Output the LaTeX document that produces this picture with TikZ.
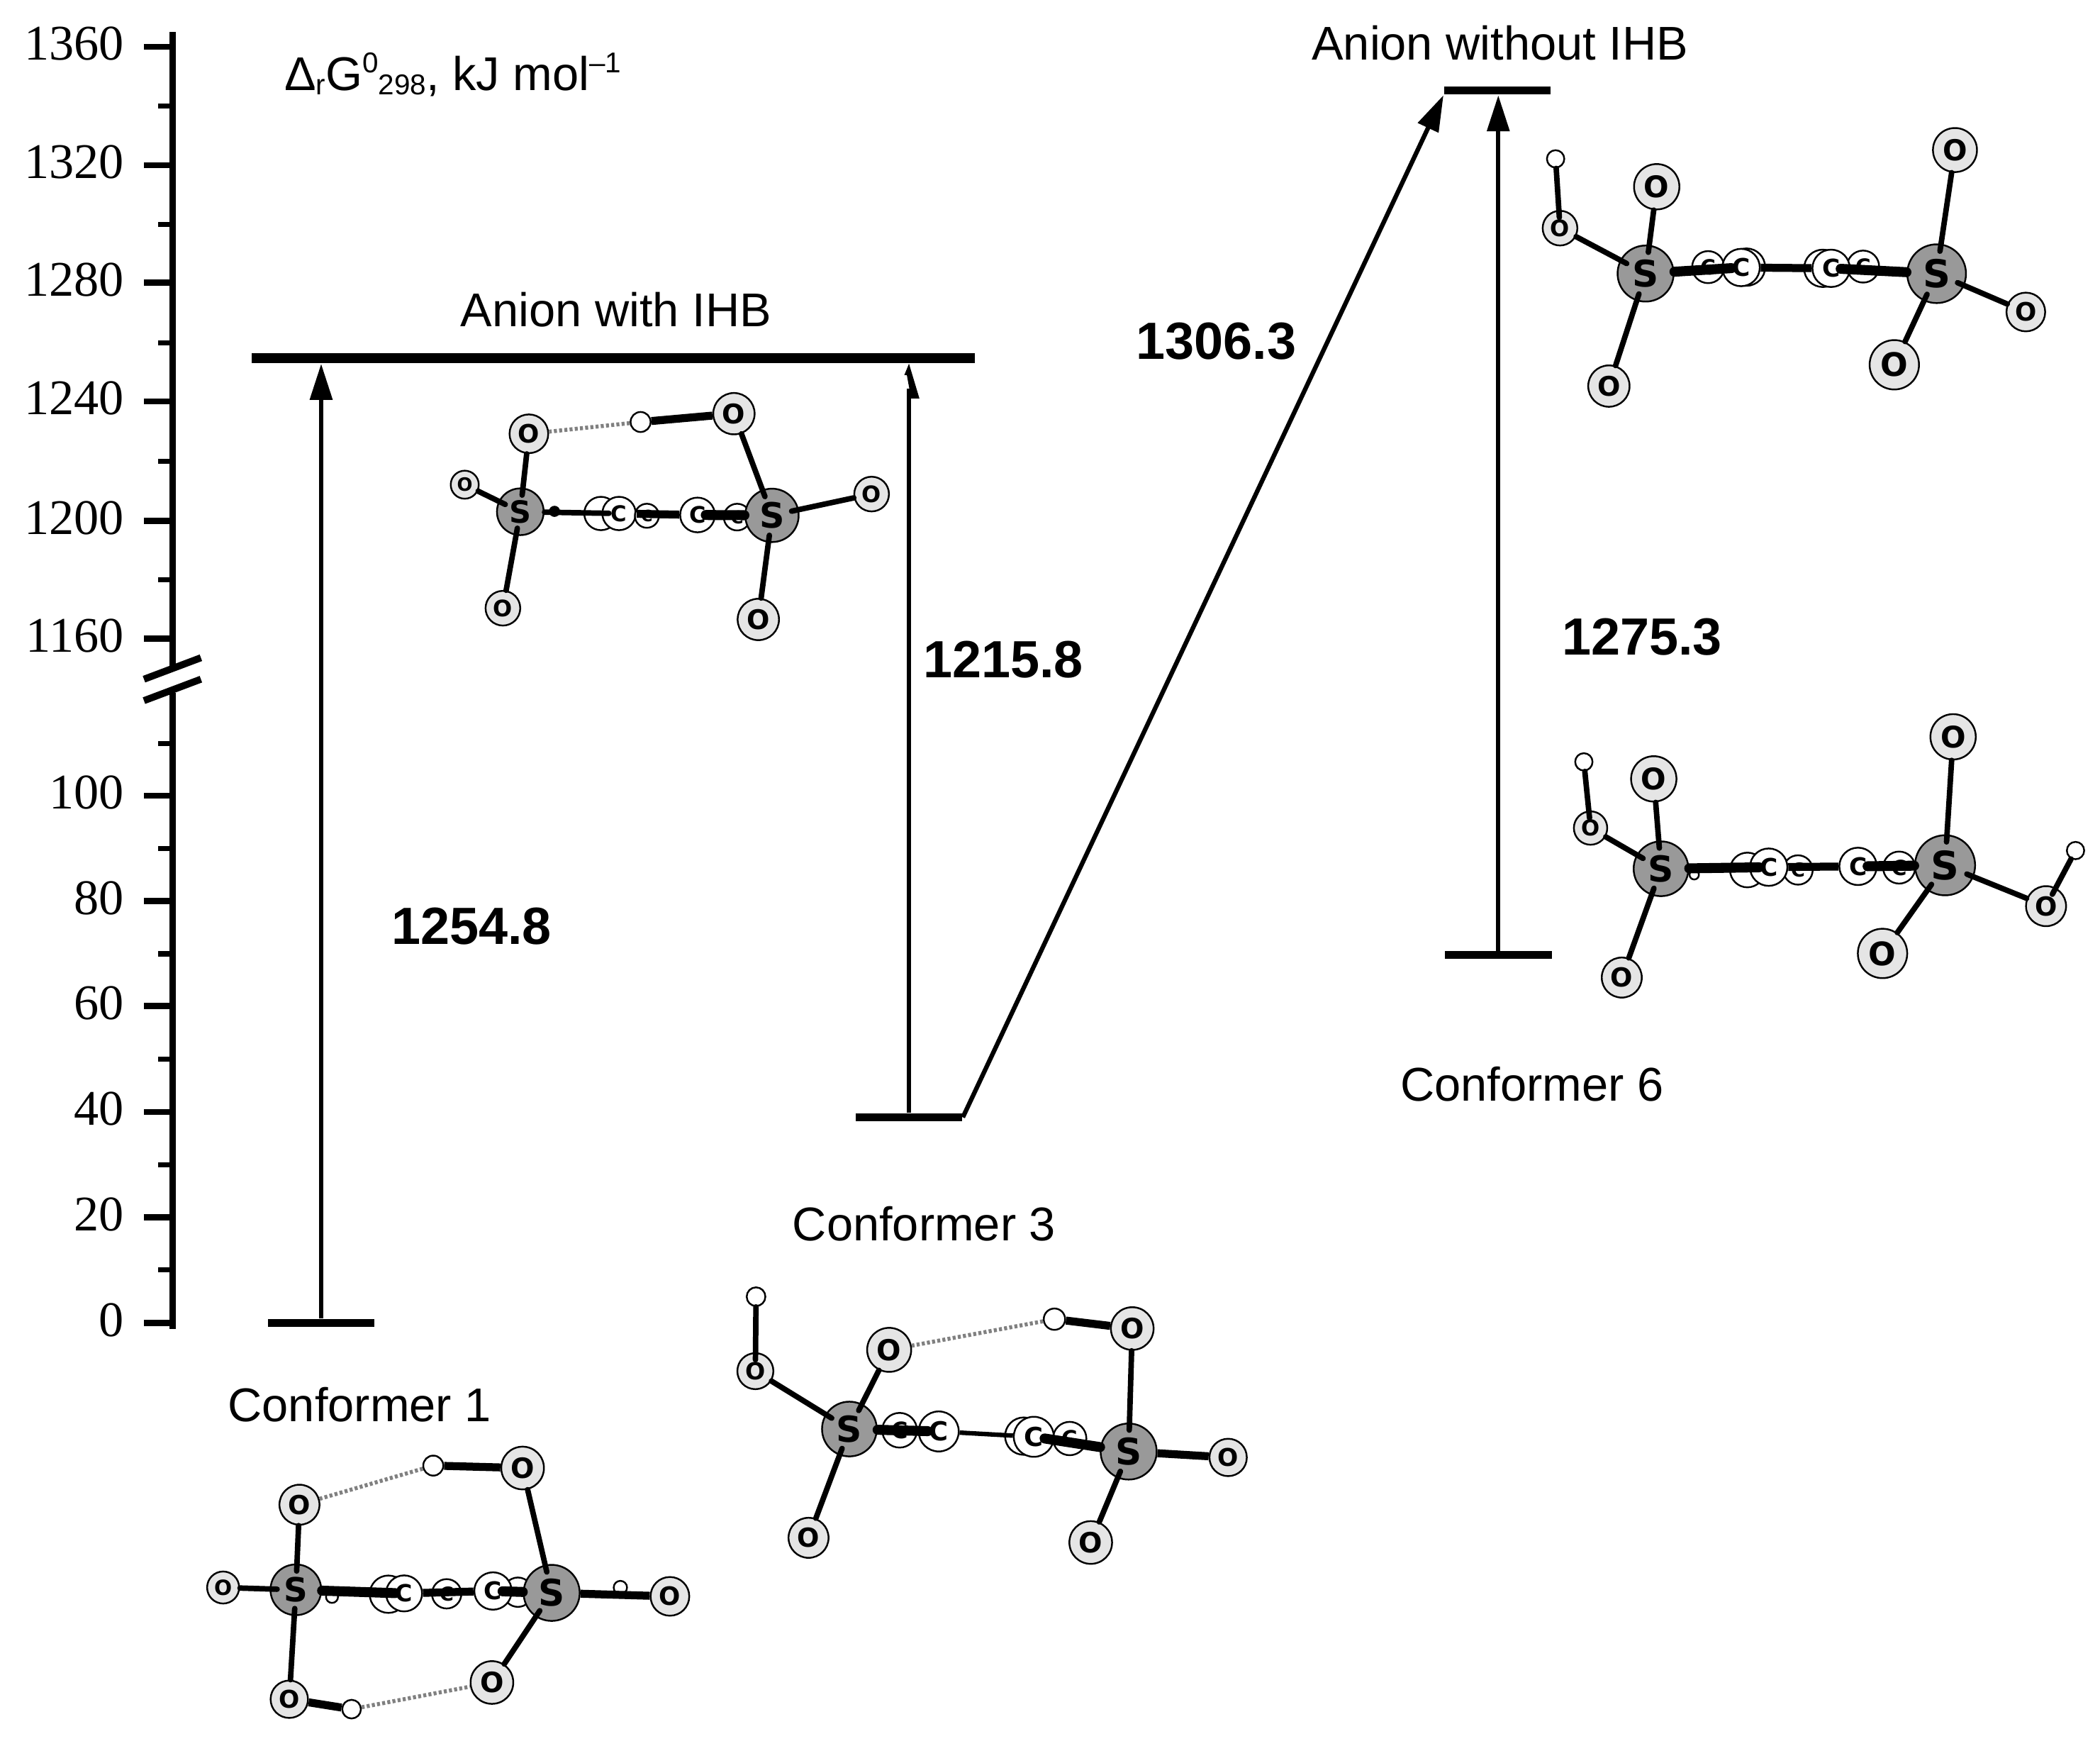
\documentclass[tikz,border=0pt]{standalone}
\usepackage{fontspec}
\setmainfont{Liberation Sans}
\newfontfamily\axisfont{Liberation Serif}
\newfontfamily\atomfont{DejaVu Sans}
\usetikzlibrary{arrows.meta, positioning}
\newcommand{\atomsize}[1]{\fontsize{\dimexpr#1pt*35/100\relax}{\dimexpr#1pt*40/100\relax}\selectfont\atomfont\bfseries}
\newcommand{\labelsize}{\fontsize{19pt}{22pt}\selectfont}
\newcommand{\valuesize}{\fontsize{21pt}{24pt}\selectfont\bfseries}
\newcommand{\lowtext}[1]{\raisebox{-1.8pt}{\fontsize{11.5pt}{12pt}\selectfont #1}}
\newcommand{\hightext}[1]{\raisebox{7pt}{\fontsize{11.5pt}{12pt}\selectfont #1}}
\definecolor{oxygen}{HTML}{E5E5E5}
\definecolor{sulfur}{HTML}{999999}

\begin{document}
\begin{tikzpicture}[x=0.01889cm, y=-0.01889cm]
        \tikzstyle{atom} = [circle, draw, line width=0.7pt, inner sep=0pt, text=black]
        \tikzstyle{atomS}[40] = [atom, fill=sulfur, minimum size=#1*0.5355pt, font=\atomsize{#1}]
        \tikzstyle{atomO}[30] = [atom, fill=oxygen, minimum size=#1*0.5355pt, font=\atomsize{#1}]
        \tikzstyle{atomC}[28] = [atom, fill=white, minimum size=#1*0.5355pt, font=\atomsize{#1}]
        \tikzstyle{atomH}[14] = [atom, fill=white, minimum size=#1*0.5355pt]
        \tikzstyle{bond} = [line width=2.2pt, shorten >=-3pt, line cap=round]
        \tikzstyle{wedge} = [line width=4pt, shorten >=-4pt, line cap=round]
        \tikzstyle{link} = [line width=3.2pt]
        \tikzstyle{hbond} = [line width=1.6pt, gray, dash pattern=on 1.2pt off 0.9pt]
        \tikzstyle{level} = [rectangle, fill=black, inner sep=0pt, minimum width=80*0.5355pt, minimum height=3.1pt]
        \tikzstyle{arrow} = [line width=1.8pt, -{Triangle[length=14.5pt, width=8.8pt]}]
        \tikzstyle{axis} = [line width=2.5pt]
        \tikzstyle{major} = [line width=2.5pt]
        \tikzstyle{minor} = [line width=2pt]
        \tikzstyle{ticklabel} = [anchor=base east, inner sep=0pt, font=\axisfont\fontsize{20pt}{22pt}\selectfont]
        \tikzstyle{caption} = [anchor=base, inner sep=0pt, font=\labelsize]
        \tikzstyle{value} = [anchor=base, inner sep=0pt, font=\valuesize]

        \useasboundingbox (0,0) rectangle (1568,1303);

        \draw [axis] (129,24) -- (129,498);
        \draw [axis] (129,517) -- (129,992);
        \draw [line width=2.8pt] (107.5,507) -- (150,491);
        \draw [line width=2.8pt] (107.5,523) -- (150,507);
        \foreach \val/\ypos in {1360/35, 1320/123.3, 1280/211, 1240/299.6, 1200/389, 1160/476.7, 100/594, 80/672.6, 60/751, 40/830, 20/908.7, 0/987.5} {
                \draw [major] (107.5,\ypos) -- (129,\ypos);
                \node (tick\val) [ticklabel] at (93,\ypos+10) {\val};
        }
        \foreach \ypos in {79.2, 167.5, 255.7, 344.3, 432.7, 555, 633.3, 712, 790.6, 869.5, 948}
                \draw [minor] (118,\ypos) -- (129,\ypos);

        \node (unit) [caption, anchor=base west] at (212,67.5) {Δ\lowtext{r}G\hightext{0}\lowtext{298}, kJ mol\hightext{–1}};

        \node (ihb) [level, minimum width=542*0.5355pt, minimum height=4pt] at (458,267.4) {};
        \node (free) [level, minimum height=3.3pt] at (1118,67.6) {};
        \node (conf1) [level] at (239.8,987.5) {};
        \node (conf3) [level] at (678.7,834) {};
        \node (conf6) [level] at (1118.7,713) {};

        \node (ihbtext) [caption] at (460,244) {Anion with IHB};
        \node (freetext) [caption] at (1120,45) {Anion without IHB};
        \node (conf1text) [caption] at (268.5,1061) {Conformer 1};
        \node (conf3text) [caption] at (690,926) {Conformer 3};
        \node (conf6text) [caption] at (1144,822) {Conformer 6};

        \node (val1) [value] at (352,705) {1254.8};
        \node (val3) [value] at (749,506) {1215.8};
        \node (val3b) [value] at (908,268) {1306.3};
        \node (val6) [value] at (1226,489) {1275.3};

        \coordinate (tip1) at (conf1.north |- ihb.south);
        \coordinate (tip3) at (conf3.north |- ihb.south);
        \coordinate (tip3b) at (free.south west);
        \coordinate (tip6) at (conf6.north |- free.south);
        \draw [arrow] (conf1.north) -- (tip1);
        \draw [line width=1.7pt] (conf3.north) -- ([yshift=-10pt]tip3);
        \fill (tip3) -- +(-3.5,8.5) -- +(-1.6,8.5) -- +(1.6,26) -- +(7.8,26) -- cycle;
        \draw [arrow] (conf3.east) -- (tip3b);
        \draw [arrow] (conf6.north) -- (tip6);

        \node (aH1) [atomH=9] at (247.9,1192) {};
        \node (aH2) [atomH=10] at (463.2,1185) {};
        \node (aCb1) [atomC=28] at (290,1190) {};
        \node (aCb2) [atomC=22] at (386.7,1188.5) {};
        \node (aS1) [atomS=38] at (220.9,1186.7) {S};
        \node (aS2) [atomS=42] at (411.9,1189) {S};
        \node (aO1) [atomO=30] at (223.6,1123.2) {O};
        \node (aO2) [atomO=32] at (390.2,1095.8) {O};
        \node (aO3) [atomO=24] at (166.6,1185) {O};
        \node (aO4) [atomO=29] at (500.2,1191.6) {O};
        \node (aO5) [atomO=28] at (216,1268.4) {O};
        \node (aO6) [atomO=32] at (367.3,1255.9) {O};
        \node (aH3) [atomH=15] at (323.5,1094) {};
        \node (aH4) [atomH=14] at (262.5,1275.8) {};
        \node (aC1) [atomC=27] at (301.7,1189.4) {C};
        \node (aC2) [atomC=22] at (333.5,1189.7) {C};
        \node (aC3) [atomC=28] at (368.1,1187.6) {C};
        \draw [bond] (aO1) -- (aS1);
        \draw [bond] (aO2) -- (aS2);
        \draw [bond] (aO3) -- (aS1);
        \draw [bond] (aO5) -- (aS1);
        \draw [bond] (aO6) -- (aS2);
        \draw [link] (aO4) -- (aS2);
        \draw [wedge] (aS1) -- (aC1);
        \draw [link] (aC1) -- (aC3);
        \draw [wedge] (aS2) -- (aC3);
        \draw [link] (aH3) -- (aO2);
        \draw [link] (aH4) -- (aO5);
        \draw [hbond] (aH3) -- (aO1);
        \draw [hbond] (aH4) -- (aO6);

        \node (bCb1) [atomC=25] at (448.7,383.3) {};
        \node (bCb2) [atomC=20] at (550.4,386) {C};
        \node (bS1) [atomS=35] at (388.5,382) {S};
        \node (bS2) [atomS=40] at (576.4,384.7) {S};
        \node (bO1) [atomO=29] at (394.9,323.8) {O};
        \node (bO2) [atomO=31] at (548,308.8) {O};
        \node (bO3) [atomO=21] at (347,361.8) {O};
        \node (bO4) [atomO=26] at (650.8,368.8) {O};
        \node (bO5) [atomO=26] at (375.5,454) {O};
        \node (bO6) [atomO=31] at (566.2,462.4) {O};
        \node (bH1) [atomH=15] at (478.3,315) {};
        \node (bC1) [atomC=25] at (462.2,383.3) {C};
        \node (bC2) [atomC=18] at (483,385) {C};
        \node (bC3) [atomC=26] at (520.8,384.4) {C};
        \node (bH2) [atomH=7, fill=black] at (414,381.7) {};
        \draw [bond] (bO1) -- (bS1);
        \draw [bond] (bO2) -- (bS2);
        \draw [bond] (bO3) -- (bS1);
        \draw [bond] (bO4) -- (bS2);
        \draw [bond] (bO5) -- (bS1);
        \draw [bond] (bO6) -- (bS2);
        \draw [bond] (bS1) -- (bC1);
        \draw [link] (bC1) -- (bC3);
        \draw [wedge] (bS2) -- (bC3);
        \draw [link] (bH1) -- (bO2);
        \draw [hbond] (bH1) -- (bO1);

        \node (cCb1) [atomC=28] at (764.4,1072) {};
        \node (cS1) [atomS=41] at (634.2,1066.7) {S};
        \node (cS2) [atomS=42] at (842.7,1083.5) {S};
        \node (cO1) [atomO=33] at (663.9,1007.6) {O};
        \node (cO2) [atomO=27] at (564,1023.5) {O};
        \node (cO3) [atomO=32] at (845.4,991.7) {O};
        \node (cO4) [atomO=28] at (917,1087.9) {O};
        \node (cO5) [atomO=30] at (603.7,1147.9) {O};
        \node (cO6) [atomO=32] at (814.4,1151.4) {O};
        \node (cH1) [atomH=14] at (564.5,967.9) {};
        \node (cH2) [atomH=16] at (787.3,984.7) {};
        \node (cC2) [atomC=26] at (671.7,1067.6) {C};
        \node (cC1) [atomC=30] at (700.9,1068.5) {C};
        \node (cC4) [atomC=25] at (798.7,1073.8) {C};
        \node (cC3) [atomC=30] at (771.9,1072.5) {C};
        \draw [bond] (cO1) -- (cS1);
        \draw [bond] (cO2) -- (cS1);
        \draw [bond] (cH1) -- (cO2);
        \draw [bond] (cO3) -- (cS2);
        \draw [bond] (cO5) -- (cS1);
        \draw [bond] (cO6) -- (cS2);
        \draw [link] (cO4) -- (cS2);
        \draw [wedge] (cS1) -- (cC1);
        \draw [link, line width=1.8pt] (cC1) -- (cC3);
        \draw [wedge] (cS2) -- (cC3);
        \draw [link] (cH2) -- (cO3);
        \draw [hbond] (cH2) -- (cO1);

        \node (dCb1) [atomC=28] at (1304,199.4) {};
        \node (dCb2) [atomC=28] at (1361,200.3) {};
        \node (dC2) [atomC=24] at (1275.4,199.4) {C};
        \node (dC4) [atomC=24] at (1391.1,199) {C};
        \node (dC1) [atomC=28] at (1300,199.7) {C};
        \node (dC3) [atomC=28] at (1367.2,200.3) {C};
        \node (dS1) [atomS=42] at (1228.7,204.2) {S};
        \node (dS2) [atomS=44] at (1446,204.3) {S};
        \node (dO1) [atomO=34] at (1237,139.4) {O};
        \node (dO2) [atomO=26] at (1164.8,170.3) {O};
        \node (dO3) [atomO=33] at (1459.7,112) {O};
        \node (dO4) [atomO=29] at (1512.6,232.9) {O};
        \node (dO5) [atomO=31] at (1201.3,288.2) {O};
        \node (dO6) [atomO=37] at (1414.4,272.3) {O};
        \node (dH1) [atomH=13] at (1161.5,118.6) {};
        \draw [bond] (dO1) -- (dS1);
        \draw [bond] (dO2) -- (dS1);
        \draw [bond] (dH1) -- (dO2);
        \draw [bond] (dO3) -- (dS2);
        \draw [bond] (dO4) -- (dS2);
        \draw [bond] (dO5) -- (dS1);
        \draw [bond] (dO6) -- (dS2);
        \draw [wedge] (dS1) -- (dC1);
        \draw [link] (dC1) -- (dC3);
        \draw [wedge] (dS2) -- (dC3);

        \node (eH3) [atomH=7] at (1265,653) {};
        \node (eCb1) [atomC=26] at (1304.7,649.4) {};
        \node (eC2) [atomC=22] at (1342.5,649.4) {C};
        \node (eC4) [atomC=24] at (1418,647.6) {C};
        \node (eC1) [atomC=28] at (1320.6,647.3) {C};
        \node (eC3) [atomC=28] at (1387.3,646.7) {C};
        \node (eS1) [atomS=41] at (1240.2,648.5) {S};
        \node (eS2) [atomS=45] at (1452.3,645.9) {S};
        \node (eO1) [atomO=34] at (1234.8,581.4) {O};
        \node (eO2) [atomO=25] at (1187.6,618.1) {O};
        \node (eO3) [atomO=34] at (1458.3,550) {O};
        \node (eO4) [atomO=30] at (1527.7,676.4) {O};
        \node (eO5) [atomO=30] at (1210.9,729.7) {O};
        \node (eO6) [atomO=37] at (1405.6,711.7) {O};
        \node (eH1) [atomH=13] at (1182.6,568.7) {};
        \node (eH2) [atomH=13] at (1549.7,634.9) {};
        \draw [bond] (eO1) -- (eS1);
        \draw [bond] (eO2) -- (eS1);
        \draw [bond] (eH1) -- (eO2);
        \draw [bond] (eO3) -- (eS2);
        \draw [bond] (eO4) -- (eS2);
        \draw [bond] (eH2) -- (eO4);
        \draw [bond] (eO5) -- (eS1);
        \draw [bond] (eO6) -- (eS2);
        \draw [wedge] (eS1) -- (eC1);
        \draw [link] (eC1) -- (eC3);
        \draw [wedge] (eS2) -- (eC3);
\end{tikzpicture}
\end{document}
